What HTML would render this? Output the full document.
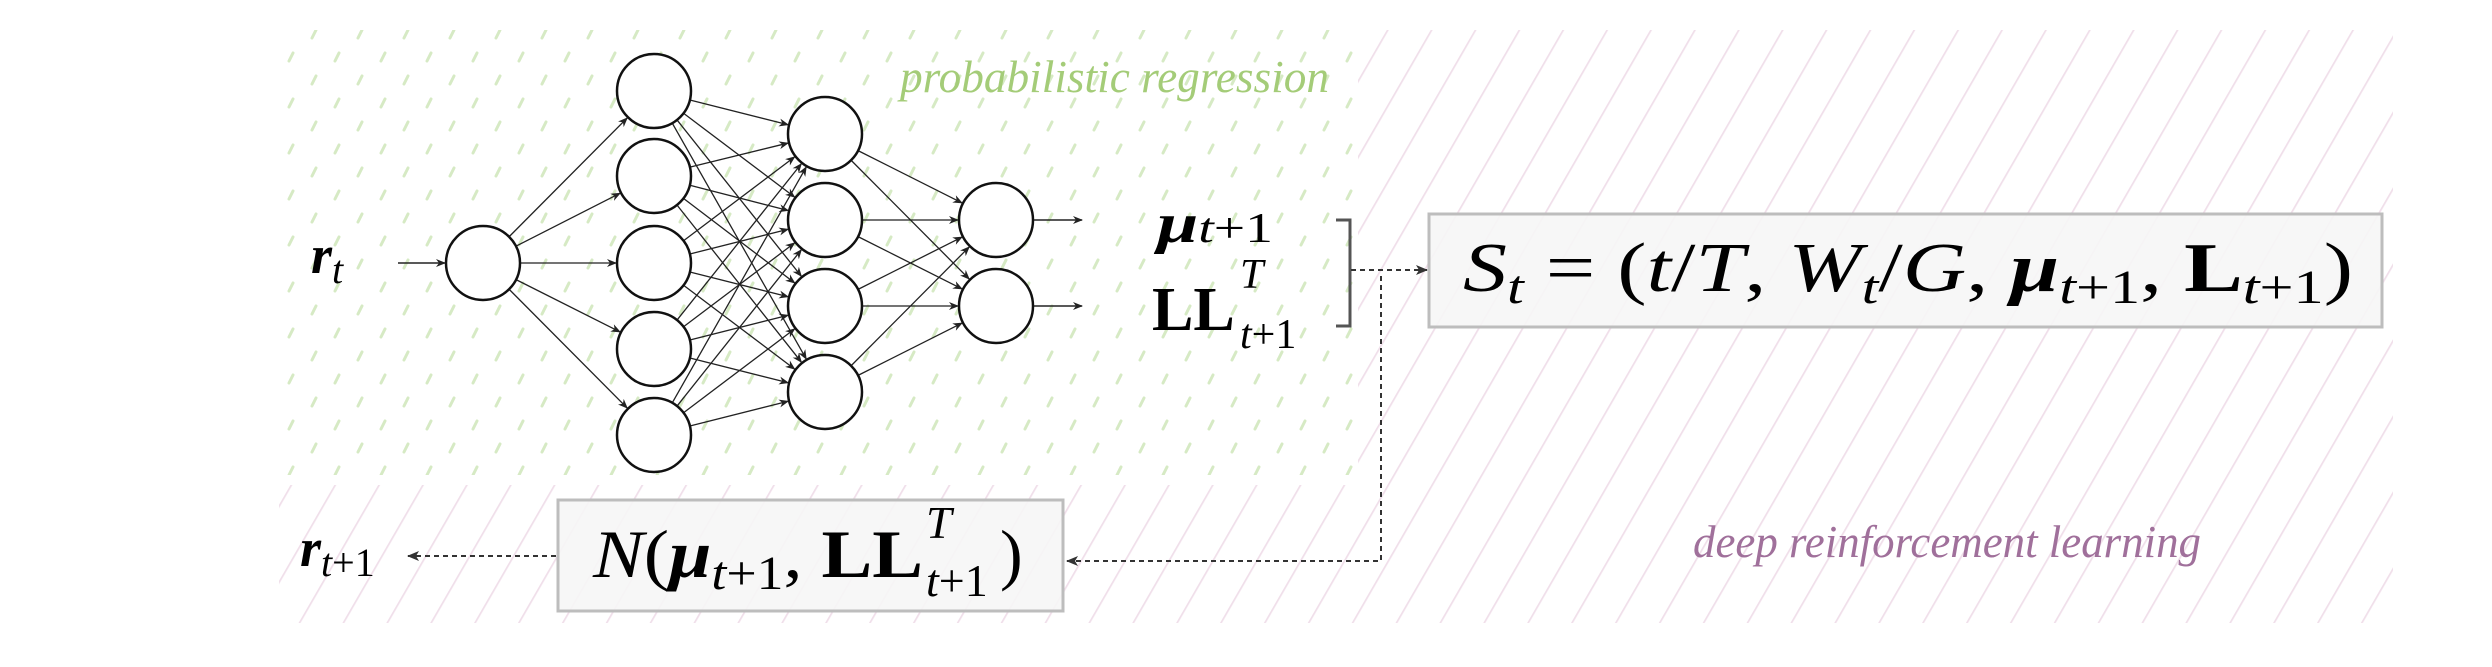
<!DOCTYPE html>
<html><head><meta charset="utf-8"><style>
html,body{margin:0;padding:0;background:#fff;}
svg{display:block;}
.m{font-family:"Liberation Serif",serif;fill:#000;}
</style></head><body>
<svg width="2492" height="667" viewBox="0 0 2492 667" xmlns="http://www.w3.org/2000/svg">
<defs>
<pattern id="pk" width="38" height="40" patternUnits="userSpaceOnUse" patternTransform="rotate(30)">
<line x1="0" y1="0" x2="0" y2="40" stroke="#f0dfea" stroke-width="3.5"/>
</pattern>
<pattern id="gr" width="46" height="46" patternUnits="userSpaceOnUse">
<line x1="13" y1="15" x2="17" y2="7" stroke="#d6eac4" stroke-width="3" stroke-linecap="round"/>
<line x1="36" y1="38" x2="40" y2="30" stroke="#d6eac4" stroke-width="3" stroke-linecap="round"/>
</pattern>
<marker id="ah" markerWidth="10" markerHeight="10" refX="9" refY="5" orient="auto" markerUnits="userSpaceOnUse">
<path d="M0,1 L10,5 L0,9 L3,5 Z" fill="#222"/>
</marker>
<marker id="ah2" markerWidth="12" markerHeight="12" refX="11" refY="6" orient="auto" markerUnits="userSpaceOnUse">
<path d="M0,1 L12,6 L0,11 L3,6 Z" fill="#333"/>
</marker>
</defs>
<rect x="279" y="30" width="2114" height="593" fill="url(#pk)"/>
<rect x="279" y="30" width="1079" height="455" fill="#fff"/>
<rect x="279" y="30" width="1079" height="445" fill="url(#gr)"/>

<text x="900" y="92" font-family="Liberation Serif,serif" font-style="italic" font-size="46" fill="#a4cc78" textLength="429" lengthAdjust="spacingAndGlyphs">probabilistic regression</text>
<text x="1693" y="557" font-family="Liberation Serif,serif" font-style="italic" font-size="46" fill="#a0709b" textLength="508" lengthAdjust="spacingAndGlyphs">deep reinforcement learning</text>

<g id="net" stroke="#222" stroke-width="1.3" fill="none"></g>
<g id="nodes" stroke="#111" stroke-width="2.5" fill="#fff"></g>

<line x1="398" y1="263" x2="445" y2="263" stroke="#222" stroke-width="1.5" marker-end="url(#ah)"/>
<line x1="1034" y1="220" x2="1082" y2="220" stroke="#222" stroke-width="1.5" marker-end="url(#ah)"/>
<line x1="1034" y1="306" x2="1082" y2="306" stroke="#222" stroke-width="1.5" marker-end="url(#ah)"/>

<text class="m" x="311" y="273" font-size="54" font-style="italic" font-weight="bold">r<tspan font-size="40" font-weight="normal" dy="10">t</tspan></text>

<text class="m" x="1157" y="242" font-size="56" textLength="116" lengthAdjust="spacingAndGlyphs"><tspan font-style="italic" font-weight="bold">μ</tspan><tspan font-size="42" font-style="italic">t</tspan><tspan font-size="42">+1</tspan></text>
<text class="m" x="1152" y="330" font-size="62" font-weight="bold">LL</text>
<text class="m" x="1240" y="288" font-size="42" font-style="italic">T</text>
<text class="m" x="1240" y="348" font-size="42"><tspan font-style="italic">t</tspan>+1</text>

<path d="M1336,220 H1350 V326 H1336" stroke="#555" stroke-width="3" fill="none"/>
<line x1="1351" y1="270" x2="1427" y2="270" stroke="#333" stroke-width="2" stroke-dasharray="5,4" marker-end="url(#ah2)"/>
<path d="M1381,276 V561 H1067" stroke="#333" stroke-width="2" stroke-dasharray="5,4" fill="none" marker-end="url(#ah2)"/>
<line x1="556" y1="556" x2="408" y2="556" stroke="#333" stroke-width="2" stroke-dasharray="5,4" marker-end="url(#ah2)"/>

<rect x="1429" y="214" width="953" height="113" fill="#f6f6f6" fill-opacity="0.9" stroke="#bdbdbd" stroke-width="3"/>
<rect x="558" y="500" width="505" height="111" fill="#f6f6f6" fill-opacity="0.9" stroke="#bdbdbd" stroke-width="3"/>

<text class="m" x="1463" y="291" font-size="70" textLength="890" lengthAdjust="spacingAndGlyphs"><tspan font-style="italic">S</tspan><tspan font-size="48" font-style="italic" dy="12">t</tspan><tspan dy="-12"> = (</tspan><tspan font-style="italic">t</tspan>/<tspan font-style="italic">T</tspan>, <tspan font-style="italic">W</tspan><tspan font-size="48" font-style="italic" dy="12">t</tspan><tspan dy="-12">/</tspan><tspan font-style="italic">G</tspan>, <tspan font-style="italic" font-weight="bold">μ</tspan><tspan font-size="48" dy="12"><tspan font-style="italic">t</tspan>+1</tspan><tspan dy="-12">, </tspan><tspan font-weight="bold">L</tspan><tspan font-size="48" dy="12"><tspan font-style="italic">t</tspan>+1</tspan><tspan dy="-12">)</tspan></text>

<text class="m" x="593" y="577" font-size="68" textLength="330" lengthAdjust="spacingAndGlyphs"><tspan font-style="italic">N</tspan>(<tspan font-style="italic" font-weight="bold">μ</tspan><tspan font-size="48" dy="12"><tspan font-style="italic">t</tspan>+1</tspan><tspan dy="-12">, </tspan><tspan font-weight="bold">LL</tspan></text>
<text class="m" x="926" y="538" font-size="46" font-style="italic">T</text>
<text class="m" x="926" y="596" font-size="46"><tspan font-style="italic">t</tspan>+1</text>
<text class="m" x="1000" y="577" font-size="68">)</text>

<text class="m" x="300" y="566" font-size="54" font-style="italic" font-weight="bold">r<tspan font-size="40" font-weight="normal" dy="10">t</tspan><tspan font-size="40" font-weight="normal" font-style="normal">+1</tspan></text>
</svg>
<script>
(function(){
var ns="http://www.w3.org/2000/svg";
var L=[[[483,263]],[[654,91],[654,176],[654,263],[654,349],[654,435]],[[825,134],[825,220],[825,306],[825,392]],[[996,220],[996,306]]];
var r=37,net=document.getElementById('net'),nodes=document.getElementById('nodes');
for(var i=0;i<L.length-1;i++)for(var a=0;a<L[i].length;a++)for(var b=0;b<L[i+1].length;b++){
var p=L[i][a],q=L[i+1][b],dx=q[0]-p[0],dy=q[1]-p[1],d=Math.sqrt(dx*dx+dy*dy),ux=dx/d,uy=dy/d;
var l=document.createElementNS(ns,'line');
l.setAttribute('x1',p[0]+ux*r);l.setAttribute('y1',p[1]+uy*r);
l.setAttribute('x2',q[0]-ux*(r+1));l.setAttribute('y2',q[1]-uy*(r+1));
l.setAttribute('marker-end','url(#ah)');net.appendChild(l);}
L.forEach(function(ly){ly.forEach(function(p){var c=document.createElementNS(ns,'circle');
c.setAttribute('cx',p[0]);c.setAttribute('cy',p[1]);c.setAttribute('r',r);nodes.appendChild(c);});});
})();
</script>
</body></html>
